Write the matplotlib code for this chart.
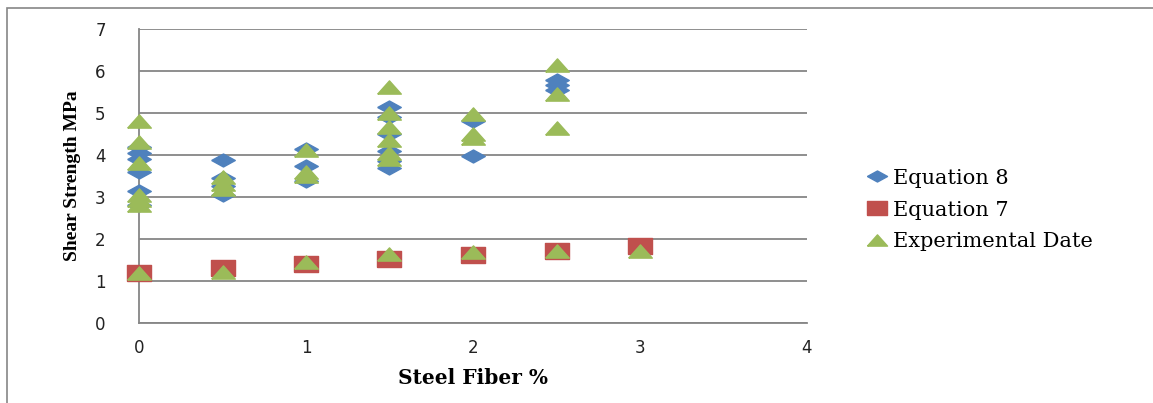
import matplotlib
matplotlib.use("Agg")
import matplotlib.pyplot as plt
from matplotlib.patches import Rectangle

# steel fiber content (%) and shear strength (MPa)
eq8_x = [0, 0, 0, 0, 0, 0,
         0.5, 0.5, 0.5, 0.5,
         1, 1, 1,
         1.5, 1.5, 1.5, 1.5, 1.5, 1.5,
         2, 2,
         2.5, 2.5, 2.5]
eq8_y = [4.2, 4.05, 3.9, 3.6, 3.15, 2.8,
         3.88, 3.45, 3.25, 3.05,
         4.15, 3.75, 3.38,
         5.15, 4.9, 4.5, 4.1, 3.85, 3.68,
         4.82, 3.97,
         5.8, 5.68, 5.55]

eq7_x = [0, 0.5, 1, 1.5, 2, 2.5, 3]
eq7_y = [1.18, 1.3, 1.4, 1.51, 1.61, 1.72, 1.82]

exp_x = [0, 0, 0, 0, 0, 0, 0,
         0.5, 0.5, 0.5, 0.5,
         1, 1, 1, 1,
         1.5, 1.5, 1.5, 1.5, 1.5, 1.5, 1.5,
         2, 2, 2, 2,
         2.5, 2.5, 2.5, 2.5,
         3]
exp_y = [4.82, 4.3, 3.8, 3.05, 2.92, 2.8, 1.18,
         3.48, 3.3, 3.18, 1.22,
         4.12, 3.6, 3.5, 1.46,
         5.62, 5.0, 4.68, 4.35, 4.05, 3.9, 1.63,
         4.98, 4.5, 4.4, 1.68,
         6.15, 5.45, 4.65, 1.72,
         1.72]

labels = ["Equation 8", "Equation 7", "Experimental Date"]
x_ticks = [0, 1, 2, 3, 4]
y_ticks = [0, 1, 2, 3, 4, 5, 6, 7]

# flattened marker shapes (wider than tall)
diamond = [(-1, 0), (0, 0.55), (1, 0), (0, -0.55), (-1, 0)]
square = [(-1, -0.68), (1, -0.68), (1, 0.68), (-1, 0.68), (-1, -0.68)]
triangle = [(-1, -0.56), (1, -0.56), (0, 0.56), (-1, -0.56)]

grid_c = "#868686"

fig = plt.figure(figsize=(11.53, 4.03), dpi=100)
ax = fig.add_axes([139 / 1153, 1 - 322.7 / 403, (807 - 139) / 1153, (322.7 - 29.3) / 403])

ax.plot(eq8_x, eq8_y, linestyle="none", marker=diamond, markersize=17,
        color="#4F81BD", label=labels[0], clip_on=False, zorder=3)
ax.plot(eq7_x, eq7_y, linestyle="none", marker=square, markersize=17,
        color="#C0504D", label=labels[1], clip_on=False, zorder=4)
ax.plot(exp_x, exp_y, linestyle="none", marker=triangle, markersize=17,
        color="#9BBB59", label=labels[2], clip_on=False, zorder=5)

ax.set_xlim(0, 4)
ax.set_ylim(0, 7)
ax.set_xticks(x_ticks)
ax.set_yticks(y_ticks)
ax.tick_params(length=0, labelsize=12, colors="#222222")
ax.tick_params(axis="x", pad=12)
ax.tick_params(axis="y", pad=24)
ax.yaxis.grid(True, color=grid_c, linewidth=1.3)
ax.set_axisbelow(True)
for s in ["top", "right"]:
    ax.spines[s].set_visible(False)
for s in ["left", "bottom"]:
    ax.spines[s].set_color(grid_c)
    ax.spines[s].set_linewidth(1.3)

ax.set_xlabel("Steel Fiber %", family="DejaVu Serif", fontweight="bold",
              fontsize=14.5, labelpad=8)
ax.set_ylabel("Shear Strength MPa", family="Liberation Serif", fontweight="bold",
              fontsize=14, labelpad=10)

leg = ax.legend(loc="center left", bbox_to_anchor=(846 / 1153, 1 - 210 / 403),
                bbox_transform=fig.transFigure, frameon=False,
                prop={"family": "DejaVu Serif", "size": 15},
                handlelength=1.2, handletextpad=0.15, labelspacing=0.62,
                markerscale=0.85)

# outer chart border
fig.add_artist(Rectangle((7 / 1153, -0.5), 2, 0.5 + 1 - 8 / 403,
                         transform=fig.transFigure, fill=False,
                         edgecolor=grid_c, linewidth=1.2))

fig.savefig("out.png", dpi=100)
